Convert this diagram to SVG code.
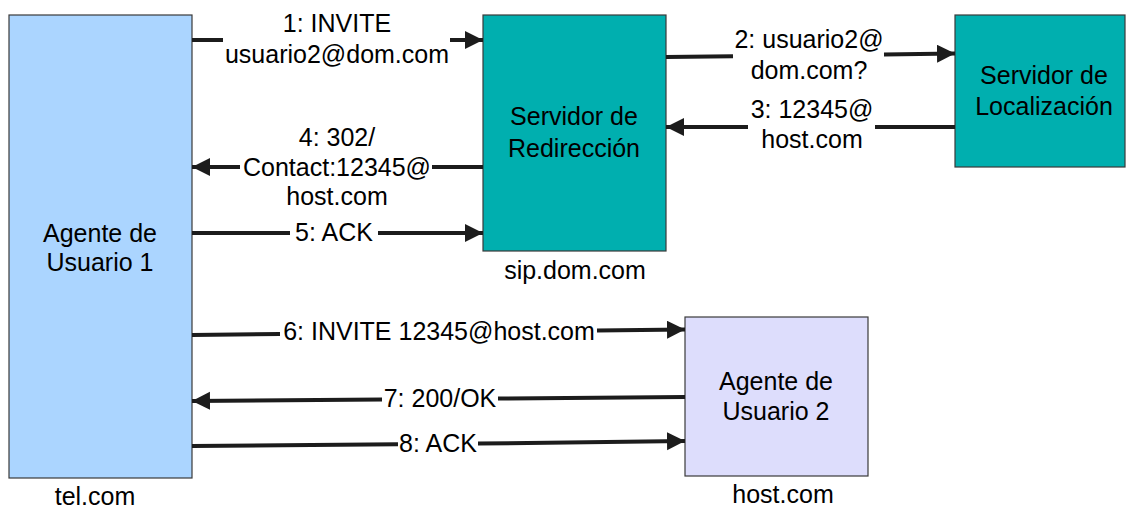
<svg xmlns="http://www.w3.org/2000/svg" width="1126" height="508" viewBox="0 0 1126 508">
  <style>
    text { font-family: "Liberation Sans", Arial, sans-serif; font-size: 25px; fill: #000; text-anchor: middle; }
    .box { stroke: #3a3a3a; stroke-width: 1.2; }
    .ua1 { fill: #abd5ff; }
    .srv { fill: #00afaf; }
    .ua2 { fill: #ddddfc; }
    .msg { fill: none; stroke: #1c1c1c; stroke-width: 4; marker-end: url(#head); }
  </style>
  <defs>
    <marker id="head" markerUnits="userSpaceOnUse" markerWidth="20" markerHeight="20" refX="18" refY="9" orient="auto">
      <path d="M0,0 L18,9 L0,18 Z" fill="#1c1c1c"/>
    </marker>
  </defs>

  <rect width="1126" height="508" fill="#fff"/>

  <g id="ua1">
    <rect class="box ua1" x="9" y="15" width="183" height="463"/>
    <text x="100" y="242">Agente de</text>
    <text x="100" y="271">Usuario 1</text>
    <text x="95" y="505">tel.com</text>
  </g>

  <g id="redirect">
    <rect class="box srv" x="483" y="15" width="183" height="236"/>
    <text x="574" y="125">Servidor de</text>
    <text x="574" y="157">Redirección</text>
    <text x="575" y="279">sip.dom.com</text>
  </g>

  <g id="location">
    <rect class="box srv" x="955" y="15" width="170" height="152"/>
    <text x="1044" y="84">Servidor de</text>
    <text x="1044" y="115">Localización</text>
  </g>

  <g id="ua2">
    <rect class="box ua2" x="685" y="317" width="183" height="159"/>
    <text x="776" y="390">Agente de</text>
    <text x="776" y="420">Usuario 2</text>
    <text x="783" y="503">host.com</text>
  </g>

  <g id="connectors">
    <!-- 1: INVITE -->
    <path class="msg" d="M192,40 L223,40 M450,40 L483,40"/>
    <text x="337" y="32">1: INVITE</text>
    <text x="337" y="63">usuario2@dom.com</text>

    <!-- 2: query -->
    <path class="msg" d="M666,57 L733,56.2 M884,54.4 L955,53.5"/>
    <text x="809" y="48">2: usuario2@</text>
    <text x="809" y="79">dom.com?</text>

    <!-- 3: answer -->
    <path class="msg" d="M955,127 L875,127 M748,127 L666,127"/>
    <text x="812" y="118">3: 12345@</text>
    <text x="812" y="148">host.com</text>

    <!-- 4: 302 -->
    <path class="msg" d="M483,167 L432,167 M240,167 L192,167"/>
    <text x="337" y="146">4: 302/</text>
    <text x="337" y="176">Contact:12345@</text>
    <text x="337" y="205">host.com</text>

    <!-- 5: ACK -->
    <path class="msg" d="M192,233 L290,233 M378,233 L483,233"/>
    <text x="334" y="241">5: ACK</text>

    <!-- 6: INVITE -->
    <path class="msg" d="M192,335 L280,334 M597,330.5 L685,329.5"/>
    <text x="439" y="340">6: INVITE 12345@host.com</text>

    <!-- 7: 200/OK -->
    <path class="msg" d="M685,397 L498,398.5 M382,399.5 L192,401"/>
    <text x="440" y="407">7: 200/OK</text>

    <!-- 8: ACK -->
    <path class="msg" d="M192,446 L398,444.3 M478,443.6 L685,441"/>
    <text x="438" y="452">8: ACK</text>
  </g>
</svg>
